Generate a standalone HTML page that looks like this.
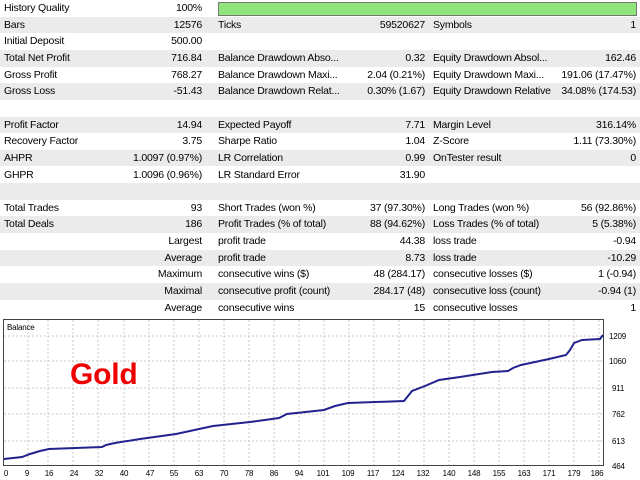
<!DOCTYPE html>
<html><head><style>
body{margin:0;width:640px;height:480px;overflow:hidden;background:#fff;font-family:"Liberation Sans",sans-serif;font-size:10.5px;letter-spacing:-0.2px;color:#000;position:relative}
.r{position:absolute;left:0;width:640px;height:16.65px;line-height:16.65px}
.g{background:#ebebeb}
.r span{position:absolute;white-space:nowrap}
.a{left:4px}.b{right:438px}.c{left:218px}.d{right:215px}.e{left:433px}.f{right:4px}
</style></head><body>
<div class="r" style="top:0"><span class="a">History Quality</span><span class="b">100%</span><div style="position:absolute;left:218px;top:2px;width:417px;height:12px;background:#8fe57a;border:1px solid #777"></div></div>
<div class="r g" style="top:16.65px"><span class="a">Bars</span><span class="b">12576</span><span class="c">Ticks</span><span class="d">59520627</span><span class="e">Symbols</span><span class="f">1</span></div>
<div class="r" style="top:33.3px"><span class="a">Initial Deposit</span><span class="b">500.00</span></div>
<div class="r g" style="top:49.95px"><span class="a">Total Net Profit</span><span class="b">716.84</span><span class="c">Balance Drawdown Abso...</span><span class="d">0.32</span><span class="e">Equity Drawdown Absol...</span><span class="f">162.46</span></div>
<div class="r" style="top:66.6px"><span class="a">Gross Profit</span><span class="b">768.27</span><span class="c">Balance Drawdown Maxi...</span><span class="d">2.04 (0.21%)</span><span class="e">Equity Drawdown Maxi...</span><span class="f">191.06 (17.47%)</span></div>
<div class="r g" style="top:83.25px"><span class="a">Gross Loss</span><span class="b">-51.43</span><span class="c">Balance Drawdown Relat...</span><span class="d">0.30% (1.67)</span><span class="e">Equity Drawdown Relative</span><span class="f">34.08% (174.53)</span></div>
<div class="r" style="top:99.9px"></div>
<div class="r g" style="top:116.55px"><span class="a">Profit Factor</span><span class="b">14.94</span><span class="c">Expected Payoff</span><span class="d">7.71</span><span class="e">Margin Level</span><span class="f">316.14%</span></div>
<div class="r" style="top:133.2px"><span class="a">Recovery Factor</span><span class="b">3.75</span><span class="c">Sharpe Ratio</span><span class="d">1.04</span><span class="e">Z-Score</span><span class="f">1.11 (73.30%)</span></div>
<div class="r g" style="top:149.85px"><span class="a">AHPR</span><span class="b">1.0097 (0.97%)</span><span class="c">LR Correlation</span><span class="d">0.99</span><span class="e">OnTester result</span><span class="f">0</span></div>
<div class="r" style="top:166.5px"><span class="a">GHPR</span><span class="b">1.0096 (0.96%)</span><span class="c">LR Standard Error</span><span class="d">31.90</span></div>
<div class="r g" style="top:183.15px"></div>
<div class="r" style="top:199.8px"><span class="a">Total Trades</span><span class="b">93</span><span class="c">Short Trades (won %)</span><span class="d">37 (97.30%)</span><span class="e">Long Trades (won %)</span><span class="f">56 (92.86%)</span></div>
<div class="r g" style="top:216.45px"><span class="a">Total Deals</span><span class="b">186</span><span class="c">Profit Trades (% of total)</span><span class="d">88 (94.62%)</span><span class="e">Loss Trades (% of total)</span><span class="f">5 (5.38%)</span></div>
<div class="r" style="top:233.1px"><span class="b">Largest</span><span class="c">profit trade</span><span class="d">44.38</span><span class="e">loss trade</span><span class="f">-0.94</span></div>
<div class="r g" style="top:249.75px"><span class="b">Average</span><span class="c">profit trade</span><span class="d">8.73</span><span class="e">loss trade</span><span class="f">-10.29</span></div>
<div class="r" style="top:266.4px"><span class="b">Maximum</span><span class="c">consecutive wins ($)</span><span class="d">48 (284.17)</span><span class="e">consecutive losses ($)</span><span class="f">1 (-0.94)</span></div>
<div class="r g" style="top:283.05px"><span class="b">Maximal</span><span class="c">consecutive profit (count)</span><span class="d">284.17 (48)</span><span class="e">consecutive loss (count)</span><span class="f">-0.94 (1)</span></div>
<div class="r" style="top:299.7px"><span class="b">Average</span><span class="c">consecutive wins</span><span class="d">15</span><span class="e">consecutive losses</span><span class="f">1</span></div>
<svg style="position:absolute;left:0;top:316px" width="640" height="164" viewBox="0 316 640 164">
<rect x="3.5" y="319.5" width="600" height="146" fill="#fff" stroke="#444"/>
<g stroke="#c8c8c8" stroke-dasharray="2,2">
<line x1="4" x2="603" y1="336" y2="336"/><line x1="4" x2="603" y1="361" y2="361"/><line x1="4" x2="603" y1="388" y2="388"/><line x1="4" x2="603" y1="414" y2="414"/><line x1="4" x2="603" y1="441" y2="441"/>
<line x1="28" x2="28" y1="320" y2="465"/><line x1="48" x2="48" y1="320" y2="465"/><line x1="73" x2="73" y1="320" y2="465"/><line x1="98" x2="98" y1="320" y2="465"/><line x1="124" x2="124" y1="320" y2="465"/><line x1="149" x2="149" y1="320" y2="465"/><line x1="174" x2="174" y1="320" y2="465"/><line x1="199" x2="199" y1="320" y2="465"/><line x1="224" x2="224" y1="320" y2="465"/><line x1="249" x2="249" y1="320" y2="465"/><line x1="274" x2="274" y1="320" y2="465"/><line x1="299" x2="299" y1="320" y2="465"/><line x1="324" x2="324" y1="320" y2="465"/><line x1="349" x2="349" y1="320" y2="465"/><line x1="374" x2="374" y1="320" y2="465"/><line x1="399" x2="399" y1="320" y2="465"/><line x1="424" x2="424" y1="320" y2="465"/><line x1="449" x2="449" y1="320" y2="465"/><line x1="474" x2="474" y1="320" y2="465"/><line x1="499" x2="499" y1="320" y2="465"/><line x1="524" x2="524" y1="320" y2="465"/><line x1="549" x2="549" y1="320" y2="465"/><line x1="574" x2="574" y1="320" y2="465"/><line x1="599" x2="599" y1="320" y2="465"/>
</g>
<text x="7" y="330" font-size="8" font-family="Liberation Sans,sans-serif">Balance</text>
<text x="70" y="384" font-size="30" font-weight="bold" fill="#e00" font-family="Liberation Sans,sans-serif">Gold</text>
<polyline fill="none" stroke="#22228f" stroke-width="2" points="4,459 22,457 30,454 40,451 49,449 102,447 106,445 115,443 140,439 176,434 213,426 250,422 279,418 287,414 324,410 335,406 348,403 404,401 408,396 412,391 425,386 439,380 460,377 492,372 508,371 513,368 521,365 535,362 549,359 566,355 570,350 574,343 582,340 600,339 603,335"/>
<g font-size="8" font-family="Liberation Sans,sans-serif" fill="#000">
<text x="609" y="339">1209</text><text x="609" y="364">1060</text><text x="612" y="391">911</text><text x="612" y="417">762</text><text x="612" y="444">613</text><text x="612" y="469">464</text>
<g text-anchor="middle"><text x="6" y="476">0</text><text x="27" y="476">9</text><text x="49" y="476">16</text><text x="74" y="476">24</text><text x="99" y="476">32</text><text x="124" y="476">40</text><text x="150" y="476">47</text><text x="174" y="476">55</text><text x="199" y="476">63</text><text x="224" y="476">70</text><text x="249" y="476">78</text><text x="274" y="476">86</text><text x="299" y="476">94</text><text x="323" y="476">101</text><text x="348" y="476">109</text><text x="373" y="476">117</text><text x="398" y="476">124</text><text x="423" y="476">132</text><text x="449" y="476">140</text><text x="474" y="476">148</text><text x="499" y="476">155</text><text x="524" y="476">163</text><text x="549" y="476">171</text><text x="574" y="476">179</text><text x="597" y="476">186</text></g>
</g>
</svg>
</body></html>
